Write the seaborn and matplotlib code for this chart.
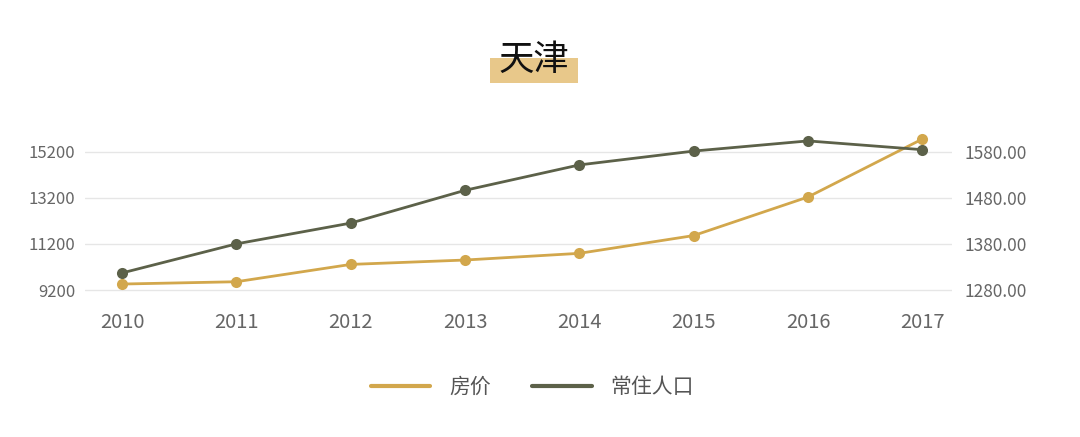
import matplotlib
matplotlib.use('Agg')
import matplotlib.pyplot as plt
import matplotlib.patches as mpatches
import pandas as pd
import seaborn as sns

# Data
years = [2010, 2011, 2012, 2013, 2014, 2015, 2016, 2017]
price = [9460, 9560, 10310, 10500, 10790, 11560, 13230, 15740]
population = [1317, 1380, 1425, 1496, 1551, 1581, 1603, 1584]
left_ticks = [9200, 11200, 13200, 15200]
right_ticks = [1280, 1380, 1480, 1580]
title = '天津'
labels = ['房价', '常住人口']

gold = '#D2A74C'
olive = '#5C6149'
grey = '#666666'

sns.set_theme(style='white')
plt.rcParams['font.family'] = ['Noto Sans CJK SC', 'DejaVu Sans']

df = pd.DataFrame({'year': years, 'price': price, 'population': population})

fig = plt.figure(figsize=(10.8, 4.37), dpi=100)
ax = fig.add_axes([0.0787, 0.331, 0.8028, 0.3645])
ax2 = ax.twinx()

sns.lineplot(data=df, x='year', y='price', ax=ax, color=gold, marker='o',
             markersize=8, markeredgewidth=0, linewidth=2, zorder=3)
sns.lineplot(data=df, x='year', y='population', ax=ax2, color=olive, marker='o',
             markersize=8, markeredgewidth=0, linewidth=2, zorder=3)

ax.set_xlim(2009.676, 2017.26)
ax.set_ylim(9100, 16000)
ax2.set_ylim(1275, 1280 + (16000 - 9200) / 20)
ax.set_yticks(left_ticks)
ax.set_yticklabels([str(v) for v in left_ticks])
ax2.set_yticks(right_ticks)
ax2.set_yticklabels([f'{v:.2f}' for v in right_ticks])
ax.set_xticks(years)
ax.set_xticklabels([str(y) for y in years])

ax.grid(axis='y', color='#e6e6e6', linewidth=1)
ax.set_axisbelow(True)
ax2.set_zorder(ax.get_zorder() + 1)
ax2.patch.set_visible(False)

for a in (ax, ax2):
    for s in a.spines.values():
        s.set_visible(False)
    a.set_xlabel('')
    a.set_ylabel('')
    a.tick_params(length=0, colors=grey)

ax.tick_params(axis='y', labelsize=12, pad=7)
ax2.tick_params(axis='y', labelsize=12.5, pad=9)
ax.tick_params(axis='x', labelsize=14.5, pad=14)

# Title with highlighted box behind lower half
rect = mpatches.Rectangle((0.4537, 0.810), 0.0815, 0.057, transform=fig.transFigure,
                          facecolor='#E8C88A', edgecolor='none', zorder=1)
fig.patches.append(rect)
fig.text(0.4945, 0.862, title, ha='center', va='center', fontsize=25.5,
         color='#111111', zorder=2)

handles = [plt.Line2D([], [], color=gold, linewidth=3),
           plt.Line2D([], [], color=olive, linewidth=3)]
leg = fig.legend(handles, labels, loc='center', bbox_to_anchor=(0.493, 0.114), ncol=2,
                 frameon=False, fontsize=15, handlelength=2.85, handletextpad=0.9,
                 columnspacing=2.0)
for t in leg.get_texts():
    t.set_color('#555555')

fig.savefig('out.png', dpi=100)
